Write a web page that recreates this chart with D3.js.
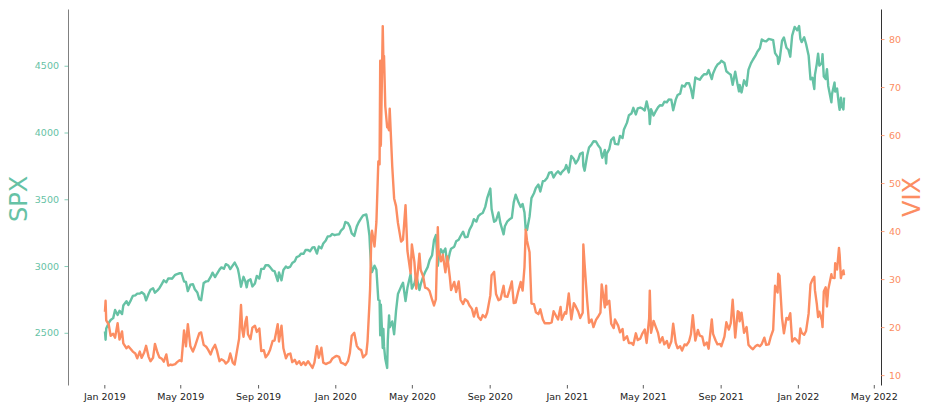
<!DOCTYPE html>
<html>
<head>
<meta charset="utf-8">
<script src="https://cdn.jsdelivr.net/npm/d3@7"></script>
<style>
  body { margin: 0; background: #fff; }
  svg { font-family: "DejaVu Sans", sans-serif; }
</style>
</head>
<body>
<script>
// Dimensions
const width = 936;
const height = 410;
const margin = { top: 9, right: 55, bottom: 25, left: 68 };

// dates (one per row of month)
const dates = [
  "2019-01-02","2019-01-03","2019-01-04","2019-01-08","2019-01-11","2019-01-15","2019-01-18","2019-01-22","2019-01-25","2019-01-29","2019-01-31",
  "2019-02-05","2019-02-08","2019-02-12","2019-02-15","2019-02-19","2019-02-22","2019-02-26",
  "2019-03-01","2019-03-05","2019-03-08","2019-03-12","2019-03-15","2019-03-19","2019-03-22","2019-03-26","2019-03-29",
  "2019-04-02","2019-04-05","2019-04-09","2019-04-12","2019-04-16","2019-04-18","2019-04-23","2019-04-26","2019-04-30",
  "2019-05-03","2019-05-07","2019-05-10","2019-05-13","2019-05-17","2019-05-21","2019-05-24","2019-05-28","2019-05-31",
  "2019-06-03","2019-06-07","2019-06-11","2019-06-14","2019-06-18","2019-06-21","2019-06-25","2019-06-28",
  "2019-07-02","2019-07-05","2019-07-09","2019-07-12","2019-07-16","2019-07-19","2019-07-23","2019-07-26","2019-07-31",
  "2019-08-02","2019-08-05","2019-08-07","2019-08-09","2019-08-12","2019-08-14","2019-08-16","2019-08-20","2019-08-23","2019-08-27","2019-08-30",
  "2019-09-03","2019-09-06","2019-09-10","2019-09-13","2019-09-17","2019-09-20","2019-09-24","2019-09-27",
  "2019-10-02","2019-10-04","2019-10-08","2019-10-11","2019-10-15","2019-10-18","2019-10-22","2019-10-25","2019-10-29",
  "2019-11-01","2019-11-05","2019-11-08","2019-11-12","2019-11-15","2019-11-19","2019-11-22","2019-11-26","2019-11-29",
  "2019-12-03","2019-12-06","2019-12-10","2019-12-13","2019-12-17","2019-12-20","2019-12-24","2019-12-27","2019-12-31",
  "2020-01-03","2020-01-07","2020-01-10","2020-01-14","2020-01-17","2020-01-21","2020-01-24","2020-01-27","2020-01-31",
  "2020-02-04","2020-02-07","2020-02-11","2020-02-14","2020-02-19","2020-02-21","2020-02-24","2020-02-25","2020-02-27","2020-02-28",
  "2020-03-03","2020-03-06","2020-03-09","2020-03-11","2020-03-12","2020-03-13","2020-03-16","2020-03-17","2020-03-18","2020-03-20","2020-03-23","2020-03-24","2020-03-26","2020-03-27","2020-03-31",
  "2020-04-03","2020-04-06","2020-04-09","2020-04-14","2020-04-17","2020-04-21","2020-04-24","2020-04-29",
  "2020-05-01","2020-05-05","2020-05-08","2020-05-13","2020-05-15","2020-05-19","2020-05-22","2020-05-26","2020-05-29",
  "2020-06-02","2020-06-05","2020-06-08","2020-06-11","2020-06-12","2020-06-16","2020-06-19","2020-06-23","2020-06-26","2020-06-30",
  "2020-07-02","2020-07-07","2020-07-10","2020-07-14","2020-07-17","2020-07-21","2020-07-24","2020-07-28","2020-07-31",
  "2020-08-04","2020-08-07","2020-08-11","2020-08-14","2020-08-18","2020-08-21","2020-08-25","2020-08-28",
  "2020-09-02","2020-09-04","2020-09-08","2020-09-11","2020-09-15","2020-09-18","2020-09-23","2020-09-25","2020-09-29",
  "2020-10-02","2020-10-06","2020-10-09","2020-10-12","2020-10-16","2020-10-20","2020-10-23","2020-10-26","2020-10-28","2020-10-30",
  "2020-11-03","2020-11-06","2020-11-10","2020-11-13","2020-11-17","2020-11-20","2020-11-24","2020-11-27",
  "2020-12-01","2020-12-04","2020-12-08","2020-12-11","2020-12-15","2020-12-18","2020-12-22","2020-12-24","2020-12-29","2020-12-31",
  "2021-01-04","2021-01-08","2021-01-12","2021-01-15","2021-01-19","2021-01-22","2021-01-26","2021-01-27","2021-01-29",
  "2021-02-02","2021-02-05","2021-02-09","2021-02-12","2021-02-16","2021-02-19","2021-02-23","2021-02-25","2021-02-26",
  "2021-03-02","2021-03-04","2021-03-05","2021-03-09","2021-03-12","2021-03-16","2021-03-18","2021-03-23","2021-03-26","2021-03-30",
  "2021-04-01","2021-04-06","2021-04-09","2021-04-13","2021-04-16","2021-04-20","2021-04-23","2021-04-27","2021-04-30",
  "2021-05-04","2021-05-07","2021-05-11","2021-05-12","2021-05-14","2021-05-18","2021-05-21","2021-05-25","2021-05-28",
  "2021-06-01","2021-06-04","2021-06-08","2021-06-11","2021-06-15","2021-06-18","2021-06-22","2021-06-25","2021-06-29",
  "2021-07-02","2021-07-06","2021-07-09","2021-07-13","2021-07-16","2021-07-19","2021-07-23","2021-07-27","2021-07-30",
  "2021-08-03","2021-08-06","2021-08-10","2021-08-13","2021-08-18","2021-08-20","2021-08-24","2021-08-27","2021-08-31",
  "2021-09-02","2021-09-07","2021-09-10","2021-09-14","2021-09-17","2021-09-20","2021-09-24","2021-09-28","2021-09-30",
  "2021-10-01","2021-10-04","2021-10-08","2021-10-12","2021-10-15","2021-10-19","2021-10-22","2021-10-26","2021-10-29",
  "2021-11-02","2021-11-05","2021-11-09","2021-11-12","2021-11-16","2021-11-19","2021-11-23","2021-11-26","2021-11-30",
  "2021-12-01","2021-12-03","2021-12-07","2021-12-10","2021-12-14","2021-12-17","2021-12-20","2021-12-23","2021-12-27","2021-12-31",
  "2022-01-03","2022-01-05","2022-01-07","2022-01-11","2022-01-14","2022-01-18","2022-01-21","2022-01-24","2022-01-27","2022-01-28","2022-01-31",
  "2022-02-02","2022-02-04","2022-02-08","2022-02-09","2022-02-11","2022-02-14","2022-02-16","2022-02-18","2022-02-23","2022-02-24","2022-02-28",
  "2022-03-01","2022-03-04","2022-03-07","2022-03-08","2022-03-10","2022-03-11","2022-03-14","2022-03-15"
];

// SPX closes, same rows as dates
const spx = [
  2510,2448,2532,2574,2596,2610,2671,2633,2665,2640,2704,
  2737,2708,2745,2776,2780,2793,2793,
  2804,2789,2743,2792,2822,2833,2800,2818,2834,
  2867,2893,2878,2907,2907,2905,2934,2940,2946,
  2946,2884,2881,2812,2860,2864,2826,2802,2752,
  2744,2873,2885,2887,2918,2950,2917,2942,
  2973,2990,2979,3014,3004,2977,3005,3026,2980,
  2932,2845,2884,2919,2883,2840,2889,2900,2847,2869,2926,
  2906,2979,2979,3007,3006,2992,2966,2962,
  2888,2952,2893,2970,2996,2986,2996,3023,3036,
  3067,3075,3093,3092,3120,3120,3110,3140,3141,
  3093,3146,3132,3169,3192,3221,3224,3240,3231,
  3235,3238,3265,3283,3330,3321,3295,3244,3226,
  3297,3328,3358,3380,3386,3338,3226,3128,2979,2954,
  3003,2972,2747,2741,2481,2711,2386,2529,2398,2305,2237,2447,2630,2541,2585,
  2489,2664,2790,2846,2875,2737,2837,2940,
  2831,2868,2930,2820,2864,2922,2955,2992,3044,
  3081,3194,3232,3002,3041,3125,3098,3131,3009,3100,
  3130,3145,3185,3197,3225,3257,3216,3218,3271,
  3306,3351,3333,3373,3390,3397,3443,3508,
  3580,3427,3332,3341,3401,3319,3237,3298,3335,
  3348,3361,3477,3534,3484,3443,3465,3401,3271,3270,
  3370,3509,3545,3585,3610,3558,3635,3638,
  3662,3699,3702,3663,3695,3709,3687,3703,3727,3756,
  3701,3825,3801,3768,3799,3841,3850,3750,3714,
  3826,3887,3911,3934,3933,3907,3881,3829,3811,
  3870,3768,3842,3876,3943,3963,3915,3911,3975,3959,
  4020,4074,4129,4142,4185,4135,4180,4187,4181,
  4165,4233,4152,4063,4174,4127,4156,4188,4204,
  4202,4230,4227,4247,4246,4166,4246,4281,4291,
  4352,4344,4370,4369,4327,4258,4412,4401,4395,
  4423,4437,4436,4468,4400,4442,4486,4509,4523,
  4537,4520,4459,4443,4433,4358,4455,4353,4308,
  4357,4300,4391,4351,4471,4520,4545,4575,4605,
  4631,4697,4685,4683,4701,4698,4691,4595,4567,
  4513,4538,4686,4712,4635,4620,4568,4726,4791,4766,
  4797,4701,4677,4713,4663,4577,4398,4410,4326,4432,4516,
  4590,4501,4521,4587,4419,4401,4475,4349,4226,4288,4374,
  4306,4329,4201,4170,4260,4204,4173,4262
];

// VIX closes, same rows as dates
const vix = [
  23.2,25.5,21.4,20.5,18.2,18.6,17.8,20.8,17.4,19.1,16.6,
  15.6,16.0,15.4,14.9,14.5,13.5,14.9,
  13.6,14.7,16.1,13.8,12.9,13.6,16.5,14.7,13.7,
  13.4,12.8,14.3,12.0,12.2,12.1,12.3,12.7,13.1,
  12.9,19.3,16.0,20.6,16.0,14.9,15.9,17.5,18.7,
  18.9,16.3,15.9,15.3,14.3,15.4,16.3,15.1,
  12.9,13.3,13.0,12.4,12.9,14.5,12.6,12.2,16.1,
  17.6,24.6,19.5,18.0,21.1,22.1,18.5,17.5,19.9,20.3,19.0,
  19.7,15.0,15.2,13.7,14.4,15.3,17.1,17.2,
  20.6,17.0,20.3,15.6,13.5,14.3,14.5,12.7,13.2,
  12.3,12.9,12.1,12.7,12.1,12.9,12.3,11.5,12.6,
  16.0,13.6,15.7,12.6,12.3,12.5,12.7,13.4,13.8,
  14.0,13.8,12.6,12.4,12.1,12.9,14.6,18.2,18.8,
  16.1,15.5,15.2,13.7,14.4,17.1,25.0,27.9,39.2,40.1,
  36.8,41.9,54.5,53.9,75.5,57.8,82.7,75.9,76.5,66.0,61.6,61.7,61.0,65.5,53.5,
  46.8,45.2,41.7,37.8,38.2,45.4,35.9,31.2,
  37.2,33.6,28.0,35.3,31.9,30.5,28.2,28.0,27.5,
  25.7,24.5,25.8,40.8,36.1,33.7,35.1,31.4,34.7,30.4,
  27.7,29.4,27.3,29.5,25.7,24.8,25.8,25.4,24.5,
  23.8,22.2,24.0,22.1,21.5,22.5,22.0,23.0,
  26.6,30.8,31.5,26.9,25.6,25.8,28.6,26.4,26.3,
  27.6,29.5,25.0,25.1,27.4,29.4,27.6,32.5,40.3,38.0,
  35.6,24.9,24.8,23.1,22.7,23.7,21.6,20.8,
  20.8,20.8,21.0,23.3,22.3,21.6,24.2,21.5,23.1,22.8,
  27.0,21.6,25.0,24.3,23.2,21.9,23.0,37.2,33.1,
  25.6,20.9,21.6,20.0,21.5,22.1,23.0,28.9,28.0,
  24.1,28.6,24.7,25.5,20.7,19.8,21.6,20.3,18.9,19.6,
  17.3,18.1,16.7,16.7,16.3,18.7,17.3,17.6,18.6,
  19.5,16.7,21.8,27.6,18.8,21.3,20.2,18.8,16.8,
  17.9,16.4,17.1,15.7,17.0,20.7,16.7,15.6,16.0,
  15.1,16.4,16.2,17.0,18.5,22.5,17.2,19.4,18.2,
  18.0,16.2,16.8,15.5,21.6,18.6,17.2,16.4,16.5,
  16.0,18.0,21.0,19.5,20.8,25.7,17.8,23.3,23.1,
  21.2,23.0,18.8,20.0,16.3,15.7,15.4,16.0,16.3,
  16.0,16.5,17.8,16.3,16.4,17.9,19.4,28.6,27.2,
  31.1,30.7,21.9,18.7,21.9,21.6,22.9,17.0,17.7,17.2,
  16.6,19.7,18.8,18.4,19.2,22.8,28.9,29.9,30.5,27.7,24.8,
  22.1,23.2,21.4,20.0,27.4,28.3,24.3,27.8,31.0,30.3,30.2,
  33.3,32.0,36.5,35.1,30.2,30.8,31.8,30.8
];

// ticks
const spxTicks = [2500, 3000, 3500, 4000, 4500];
const vixTicks = [10, 20, 30, 40, 50, 60, 70, 80];
const dateTicks = ["2019-01-01","2019-05-01","2019-09-01","2020-01-01","2020-05-01","2020-09-01",
  "2021-01-01","2021-05-01","2021-09-01","2022-01-01","2022-05-01"];

const green = "#66c2a5";
const orange = "#fc8d62";

const parse = d3.timeParse("%Y-%m-%d");
const n = Math.min(dates.length, spx.length, vix.length);
const rows = d3.range(n).map(i => ({ date: parse(dates[i]), spx: spx[i], vix: vix[i] }));

// marges à la matplotlib (5%)
function padded(ext) {
  const p = (ext[1] - ext[0]) * 0.05;
  return [ext[0] - p, ext[1] + p];
}
const xExt = d3.extent(rows, d => +d.date);
const x = d3.scaleTime()
  .domain(padded(xExt).map(v => new Date(v)))
  .range([margin.left, 881]);

const ySpx = d3.scaleLinear()
  .domain(padded(d3.extent(rows, d => d.spx)))
  .range([height - margin.bottom, margin.top]);
const yVix = d3.scaleLinear()
  .domain(padded(d3.extent(rows, d => d.vix)))
  .range([height - margin.bottom, margin.top]);

const svg = d3.select("body").append("svg")
  .attr("width", width)
  .attr("height", height);

// Lignes
const lineSpx = d3.line().x(d => x(d.date)).y(d => ySpx(d.spx));
const lineVix = d3.line().x(d => x(d.date)).y(d => yVix(d.vix));

svg.append("path")
  .datum(rows)
  .attr("d", lineSpx)
  .attr("fill", "none")
  .attr("stroke", green)
  .attr("stroke-width", 2.4)
  .attr("stroke-linejoin", "round");

svg.append("path")
  .datum(rows)
  .attr("d", lineVix)
  .attr("fill", "none")
  .attr("stroke", orange)
  .attr("stroke-width", 2.4)
  .attr("stroke-linejoin", "round");

// Axe x
const xAxis = svg.append("g")
  .attr("transform", `translate(0,${height - margin.bottom})`)
  .call(d3.axisBottom(x)
    .tickValues(dateTicks.map(parse))
    .tickFormat(d3.timeFormat("%b %Y"))
    .tickSize(3.5)
    .tickPadding(4.3));
xAxis.select(".domain").remove();
xAxis.selectAll("line").attr("stroke", "#333").attr("stroke-width", 0.8);
xAxis.selectAll("text").attr("fill", "#222").style("font-size", "9.5px").style("font-family", "DejaVu Sans");

// Axe gauche SPX
const leftAxis = svg.append("g")
  .attr("transform", `translate(${margin.left},0)`)
  .call(d3.axisLeft(ySpx).tickValues(spxTicks).tickFormat(d3.format("d"))
    .tickSize(3.5).tickSizeOuter(0).tickPadding(5.5));
leftAxis.select(".domain").attr("stroke", "#808080").attr("stroke-width", 1);
leftAxis.selectAll(".tick line").attr("stroke", green).attr("stroke-width", 0.8);
leftAxis.selectAll("text").attr("fill", green).style("font-size", "9.5px").style("font-family", "DejaVu Sans");

// Axe droit VIX
const rightAxis = svg.append("g")
  .attr("transform", "translate(881,0)")
  .call(d3.axisRight(yVix).tickValues(vixTicks).tickFormat(d3.format("d"))
    .tickSize(3.5).tickSizeOuter(0).tickPadding(4.5));
rightAxis.select(".domain").attr("stroke", "#333").attr("stroke-width", 1);
rightAxis.selectAll(".tick line").attr("stroke", orange).attr("stroke-width", 0.8);
rightAxis.selectAll("text").attr("fill", orange).style("font-size", "9.5px").style("font-family", "DejaVu Sans");

// Titres des axes
svg.append("text")
  .attr("transform", "translate(19,199) rotate(-90)")
  .attr("text-anchor", "middle")
  .attr("dominant-baseline", "central")
  .attr("fill", green)
  .style("font-size", "24px")
  .text("SPX");

svg.append("text")
  .attr("transform", "translate(912,197) rotate(-90)")
  .attr("text-anchor", "middle")
  .attr("dominant-baseline", "central")
  .attr("fill", orange)
  .style("font-size", "24px")
  .text("VIX");
</script>
</body>
</html>
